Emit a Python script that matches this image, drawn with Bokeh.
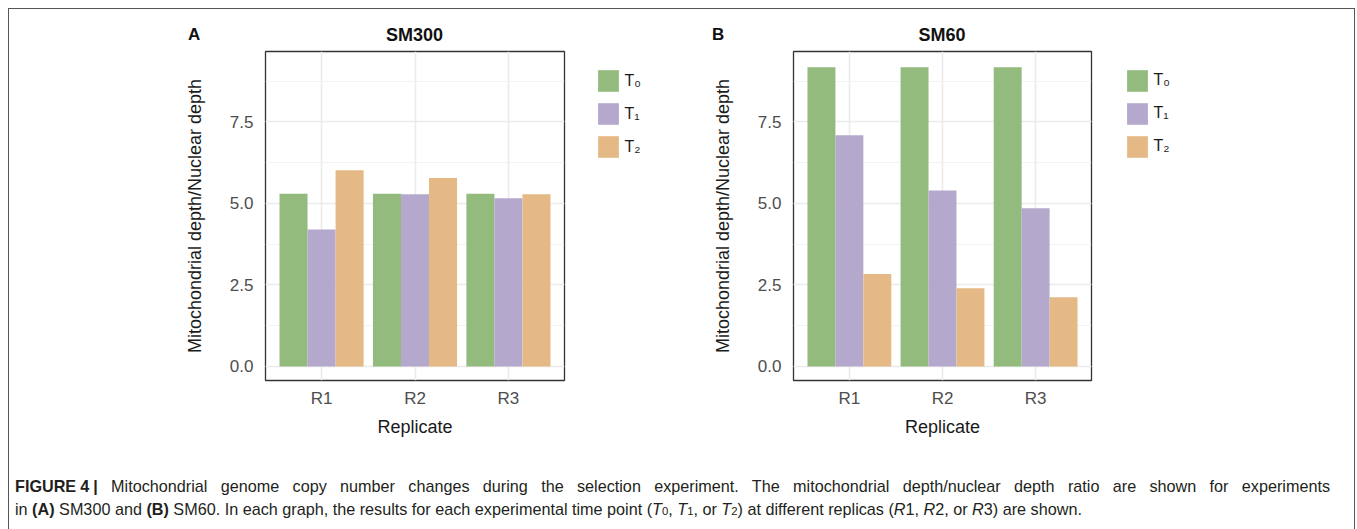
from bokeh.plotting import figure
from bokeh.models import (ColumnDataSource, FactorRange, Range1d, Legend, LegendItem,
                          SingleIntervalTicker, PrintfTickFormatter, Div)
from bokeh.layouts import row, column
from bokeh.transform import dodge
from bokeh.embed import file_html
from bokeh.resources import INLINE

replicates = ["R1", "R2", "R3"]
time_labels = ["T\u2080", "T\u2081", "T\u2082"]
colors = ["#93BB7E", "#B4A8CC", "#E5B985"]

sm300_t0 = [5.30, 5.30, 5.30]
sm300_t1 = [4.20, 5.28, 5.16]
sm300_t2 = [6.02, 5.78, 5.28]

sm60_t0 = [9.18, 9.18, 9.18]
sm60_t1 = [7.09, 5.40, 4.85]
sm60_t2 = [2.84, 2.40, 2.12]

FONT = "Liberation Sans"
FIG_H = 406


def make_panel(series, width, b_left, b_right):
    p = figure(x_range=FactorRange(factors=replicates, range_padding=0.1,
                                   range_padding_units="absolute"),
               y_range=Range1d(-0.43, 9.66), title=None,
               width=width, height=FIG_H, output_backend="svg", toolbar_location=None,
               min_border_left=b_left, min_border_right=b_right,
               min_border_top=2, min_border_bottom=75)
    p.border_fill_color = None
    p.background_fill_color = "white"
    p.outline_line_color = "#333333"
    p.outline_line_width = 1.3

    offsets = [-0.3, 0.0, 0.3]
    sources = []
    for vals, off, col in zip(series, offsets, colors):
        src = ColumnDataSource(dict(x=replicates, top=vals))
        p.vbar(x=dodge("x", off, range=p.x_range), top="top", bottom=0, width=0.3,
               source=src, fill_color=col, line_color=None)
        sources.append(src)

    p.yaxis.ticker = SingleIntervalTicker(interval=2.5, num_minor_ticks=2)
    p.yaxis.formatter = PrintfTickFormatter(format="%.1f")
    for ax in (p.xaxis[0], p.yaxis[0]):
        ax.axis_line_color = None
        ax.major_tick_line_color = None
        ax.minor_tick_line_color = None
        ax.major_tick_out = 0
        ax.major_tick_in = 0
        ax.major_label_text_font = FONT
        ax.major_label_text_font_size = "17px"
        ax.major_label_text_color = "#4D4D4D"
        ax.axis_label_text_font = FONT
        ax.axis_label_text_font_size = "18px"
        ax.axis_label_text_font_style = "normal"
        ax.axis_label_text_color = "#1A1A1A"
    p.xaxis.axis_label = "Replicate"
    p.yaxis.axis_label = "Mitochondrial depth/Nuclear depth"
    p.xaxis.major_label_standoff = 8
    p.yaxis.major_label_standoff = 8
    p.xaxis.axis_label_standoff = 6
    p.yaxis.axis_label_standoff = 22

    p.xgrid.grid_line_color = "#EBEBEB"
    p.xgrid.grid_line_width = 1.6
    p.ygrid.grid_line_color = "#EBEBEB"
    p.ygrid.grid_line_width = 1.6
    p.ygrid.minor_grid_line_color = "#F0F0F0"
    p.ygrid.minor_grid_line_width = 0.8
    return p, sources


def make_legend(width, sources, loc):
    # legend-only plot: hidden renderers sharing the panel's sources supply the key glyphs
    lg = figure(width=width, height=FIG_H, x_range=FactorRange(factors=replicates),
                y_range=Range1d(-2, -1), x_axis_type=None, y_axis_type=None, title=None,
                output_backend="svg", toolbar_location=None,
                min_border_left=0, min_border_right=0, min_border_top=2, min_border_bottom=75)
    lg.border_fill_color = None
    lg.background_fill_color = None
    lg.outline_line_color = None
    lg.grid.visible = False
    rends = [lg.vbar(x="x", top="top", bottom=0, width=0.3, source=s, visible=False,
                     fill_color=c, line_color=None) for s, c in zip(sources, colors)]
    legend = Legend(items=[LegendItem(label=t, renderers=[r]) for t, r in zip(time_labels, rends)],
                    location=loc, orientation="vertical",
                    glyph_width=26, glyph_height=27, spacing=6, padding=0, margin=0,
                    label_standoff=3, border_line_color=None, background_fill_alpha=0,
                    inactive_fill_alpha=0,
                    label_text_font=FONT, label_text_font_size="16px",
                    label_text_color="#1A1A1A")
    lg.add_layout(legend)
    return lg


pA, srcA = make_panel([sm300_t0, sm300_t1, sm300_t2], 582, 257, 26)
lA = make_legend(110, srcA, (5.4, 219.7))
pB, srcB = make_panel([sm60_t0, sm60_t1, sm60_t2], 410, 93, 19)
lB = make_legend(245, srcB, (14.4, 220.4))

head_html = (
    '<div style="position:relative; width:1347px; height:41px; font-family:\'Liberation Sans\'; '
    'color:#111;">'
    '<div style="position:absolute; left:180px; top:17.6px; font-size:17px; line-height:17px; '
    'font-weight:bold;">A</div>'
    '<div style="position:absolute; left:257px; width:299px; top:17.8px; font-size:18px; '
    'line-height:18px; font-weight:bold; text-align:center;">SM300</div>'
    '<div style="position:absolute; left:704px; top:17.6px; font-size:17px; line-height:17px; '
    'font-weight:bold;">B</div>'
    '<div style="position:absolute; left:785px; width:298px; top:17.8px; font-size:18px; '
    'line-height:18px; font-weight:bold; text-align:center;">SM60</div>'
    '</div>'
)
head = Div(text=head_html, width=1347, height=41, margin=0)

sub = '<span style="font-size:70%;">{}</span>'
sp = "\u2005"
caption_html = (
    '<div style="font-family:\'Liberation Sans\'; font-size:16.2px; line-height:23px; '
    'color:#231F20; padding:20px 0 0 7px; white-space:nowrap;">'
    '<div style="width:1315px; text-align:justify; text-align-last:justify;">'
    '<b>FIGURE' + sp + '4' + sp + '|</b> Mitochondrial genome copy number changes during the selection experiment. '
    'The mitochondrial depth/nuclear depth ratio are shown for experiments</div>'
    '<div>in <b>(A)</b> SM300 and <b>(B)</b> SM60. In each graph, the results for each experimental '
    'time point (<i>T</i>' + sub.format("0") + ', <i>T</i>' + sub.format("1") + ', '
    'or <i>T</i>' + sub.format("2") + ') at different replicas '
    '(<i>R</i>1, <i>R</i>2, or <i>R</i>3) are shown.</div>'
    '</div>'
)
caption = Div(text=caption_html, width=1347, height=74, margin=0)

layout = column(head, row(pA, lA, pB, lB), caption, margin=(8, 0, 0, 8),
                styles={"box-shadow": "inset 1px 1px 0 #555555, inset -1px 0 0 #555555"})

open("out.html", "w").write(file_html(layout, INLINE))
